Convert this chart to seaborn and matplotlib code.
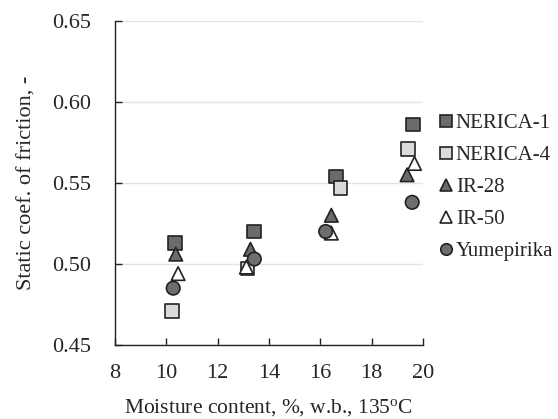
import pandas as pd
import matplotlib.pyplot as plt
import seaborn as sns

# Data
cultivars = ["NERICA-1", "NERICA-4", "IR-28", "IR-50", "Yumepirika"]

moisture = {
    "NERICA-1": [10.33, 13.41, 16.62, 19.61],
    "NERICA-4": [10.22, 13.16, 16.78, 19.42],
    "IR-28": [10.37, 13.28, 16.43, 19.38],
    "IR-50": [10.46, 13.12, 16.43, 19.67],
    "Yumepirika": [10.27, 13.43, 16.21, 19.58],
}
friction = {
    "NERICA-1": [0.513, 0.520, 0.554, 0.586],
    "NERICA-4": [0.471, 0.497, 0.547, 0.571],
    "IR-28": [0.506, 0.509, 0.530, 0.555],
    "IR-50": [0.494, 0.498, 0.519, 0.562],
    "Yumepirika": [0.485, 0.503, 0.520, 0.538],
}

colors = ["#6b6b6b", "#dadada", "#6b6b6b", "#ffffff", "#6e6e6e"]
markers = ["s", "s", "^", "^", "o"]

rows = []
for c in cultivars:
    for x, y in zip(moisture[c], friction[c]):
        rows.append({"Moisture": x, "Friction": y, "Cultivar": c})
df = pd.DataFrame(rows)

sns.set_style("white")
plt.rcParams['font.family'] = ['Liberation Serif', 'DejaVu Serif']
plt.rcParams['mathtext.fontset'] = 'custom'
plt.rcParams['mathtext.rm'] = 'Liberation Serif'

fig = plt.figure(figsize=(5.58, 4.19), dpi=100)
ax = fig.add_axes([0.206, 0.177, 0.552, 0.773])

sns.scatterplot(
    data=df, x="Moisture", y="Friction",
    hue="Cultivar", style="Cultivar",
    hue_order=cultivars, style_order=cultivars,
    palette=dict(zip(cultivars, colors)),
    markers=dict(zip(cultivars, markers)),
    s=95, edgecolor="#222222", linewidth=1.2, ax=ax, zorder=3,
)

ax.set_xlim(8, 20)
ax.set_ylim(0.45, 0.65)
ax.set_xticks(range(8, 21, 2))
ax.set_yticks([0.45, 0.50, 0.55, 0.60, 0.65])
ax.set_yticklabels(["0.45", "0.50", "0.55", "0.60", "0.65"])
ax.yaxis.grid(True, color="#e4e4e4", linewidth=1.0)
ax.set_axisbelow(True)

for side in ["top", "right"]:
    ax.spines[side].set_visible(False)
for side in ["left", "bottom"]:
    ax.spines[side].set_color("#222222")
    ax.spines[side].set_linewidth(1.0)

ax.tick_params(direction="in", length=5, width=1.0, color="#222222",
               labelsize=16, left=True, bottom=True)
ax.tick_params(axis="y", pad=17)
ax.tick_params(axis="x", pad=14)
ax.set_xlabel("Moisture content, %, w.b., 135$\\mathrm{^{o}}$C", fontsize=15.5, labelpad=10)
ax.set_ylabel("Static coef. of friction, -", fontsize=16)
ax.yaxis.set_label_coords(-0.255, 0.5)

leg = ax.legend(
    loc="upper left", bbox_to_anchor=(0.995, 0.76), frameon=False,
    fontsize=15, handletextpad=-0.05, labelspacing=0.6, borderaxespad=0.3,
    markerscale=0.85, handlelength=1.0,
)
for h in leg.legend_handles:
    h.set_markeredgecolor("#222222")
    h.set_markeredgewidth(1.2)

fig.savefig("out.png", dpi=100)
